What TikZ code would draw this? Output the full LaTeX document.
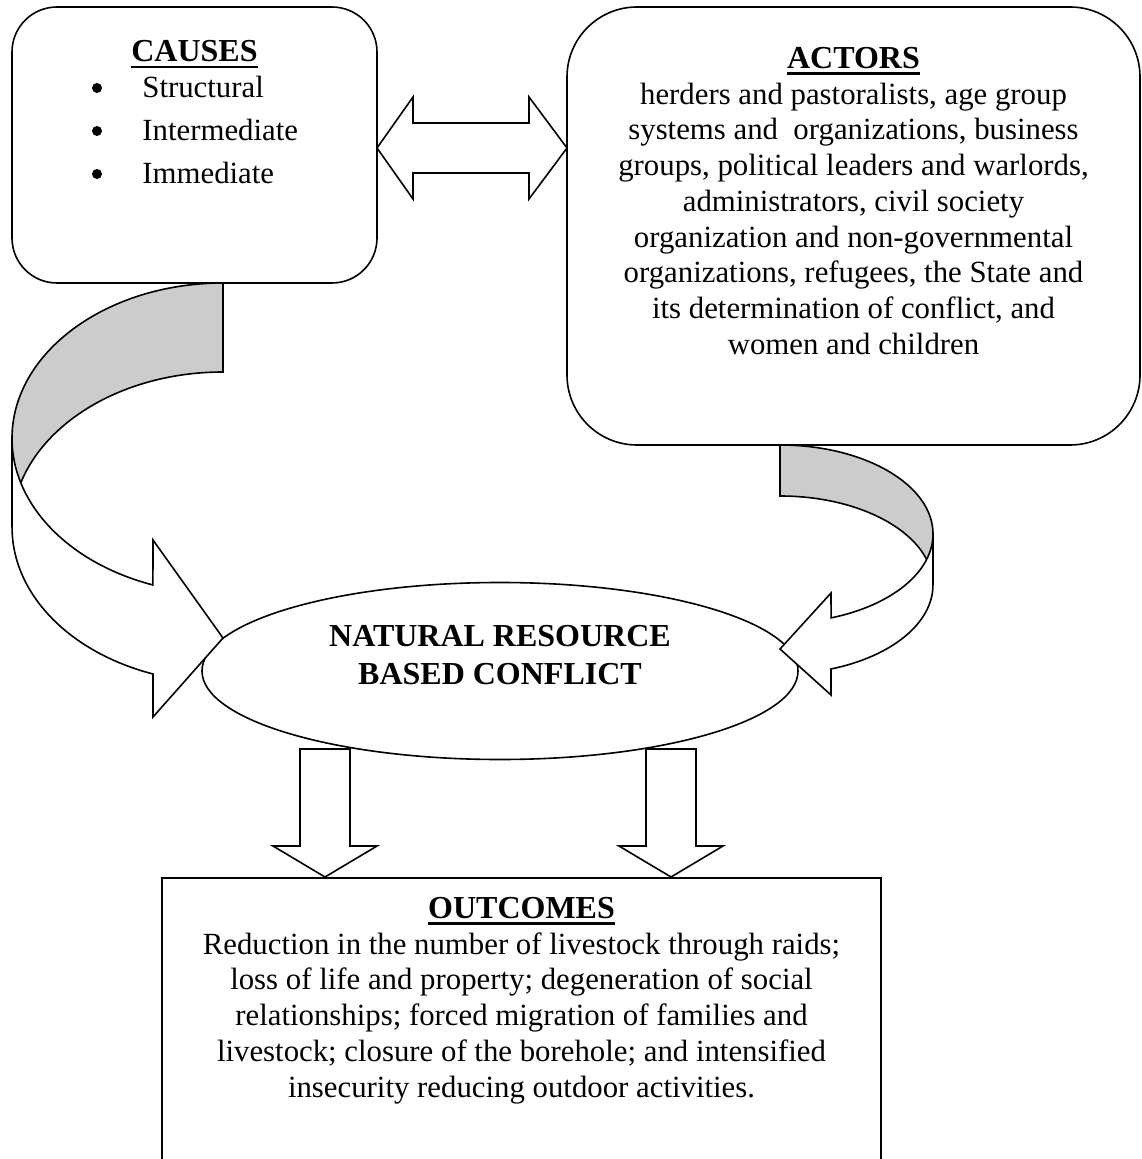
\documentclass[tikz,border=0pt]{standalone}
\usepackage{fontspec}
\setmainfont{Liberation Serif}
\usetikzlibrary{shapes.geometric}
\tikzset{box/.style={draw, line width=0.8pt, fill=white, inner sep=0pt}}
\tikzset{blockarrow/.style={draw, line width=0.8pt, fill=white, line join=miter}}
\tikzset{backband/.style={draw, line width=0.8pt, fill=black!20}}
\tikzset{dot/.style={circle, fill=black, inner sep=0pt, minimum size=5pt}}
\tikzset{txt/.style={font=\fontsize{15.4}{17.85}\selectfont, inner sep=0pt}}
\tikzset{conflicttxt/.style={font=\fontsize{16}{19}\selectfont\bfseries, align=center, inner sep=0pt}}
\newsavebox{\headbox}
\newcommand{\boxhead}[1]{{\fontsize{16}{18}\selectfont\bfseries\sbox{\headbox}{#1}\rlap{\rule[-3.2pt]{\wd\headbox}{1.3pt}}\usebox{\headbox}}}

\begin{document}
\begin{tikzpicture}[x=0.5pt, y=-0.5pt]
  \useasboundingbox (0,0) rectangle (1141,1159);
  \clip (0,0) rectangle (1141,1159);

  \node[box, rounded corners=22.5pt, minimum width=182.5pt, minimum height=138pt] (causes) at (194.5,145) {};
  \node[box, rounded corners=35pt, minimum width=286.5pt, minimum height=219pt] (actors) at (853.5,226) {};

  \draw[backband] (223,283) arc[start angle=-90, end angle=-180, x radius=211, y radius=155.4]
    -- (12,527.4) arc[start angle=180, end angle=270, x radius=211, y radius=155.4] -- cycle;
  \draw[backband] (780,445) arc[start angle=-90, end angle=0, x radius=153, y radius=89]
    -- (933,585) arc[start angle=0, end angle=-90, x radius=153, y radius=89] -- cycle;

  \node[box, ellipse, minimum width=298pt, minimum height=88.5pt] (conflict) at (500,671) {};

  \draw[blockarrow] (12,438.4) arc[start angle=180, end angle=109.4, x radius=211, y radius=155.4]
    -- (153,540) -- (223,638) -- (153,717) -- (153,674)
    arc[start angle=109.4, end angle=180, x radius=211, y radius=155.4] -- cycle;
  \draw[blockarrow] (933,534) arc[start angle=0, end angle=70.5, x radius=153, y radius=89]
    -- (831,593) -- (780,649) -- (831,695) -- (831,669)
    arc[start angle=70.5, end angle=0, x radius=153, y radius=89] -- cycle;

  \draw[blockarrow] (377,148) -- (413,97) -- (413,123) -- (529,123) -- (529,97) -- (567,148)
    -- (529,199) -- (529,173) -- (413,173) -- (413,199) -- cycle;

  \node[box, minimum width=359.5pt, minimum height=150pt, anchor=north] (outcomes) at (521.5,877) {};
  \foreach \x in {300,646}
    \draw[blockarrow] (\x,749) -- (\x+50,749) -- (\x+50,846) -- (\x+77,846) -- (\x+25,877)
      -- (\x-27,846) -- (\x,846) -- cycle;

  \node[txt, anchor=base] (causeshead) at (194.5,62) {\boxhead{CAUSES}};
  \foreach \c [count=\i] in {Structural,Intermediate,Immediate} {
    \node[dot] (bullet\i) at (97,45+43*\i) {};
    \node[txt, anchor=base west] (cause\i) at (142,55+43*\i) {\c};
  }

  \node[txt, align=center, anchor=north] (actorstext) at (853.5,47) {\boxhead{ACTORS}\\
    herders and pastoralists, age group\\
    systems and~ organizations, business\\
    groups, political leaders and warlords,\\
    administrators, civil society\\
    organization and non-governmental\\
    organizations, refugees, the State and\\
    its determination of conflict, and\\
    women and children};

  \node[conflicttxt, anchor=north] (conflicttext) at (500,625) {NATURAL RESOURCE\\BASED CONFLICT};

  \node[txt, align=center, anchor=north] (outcomestext) at (521.5,897) {\boxhead{OUTCOMES}\\
    Reduction in the number of livestock through raids;\\
    loss of life and property; degeneration of social\\
    relationships; forced migration of families and\\
    livestock; closure of the borehole; and intensified\\
    insecurity reducing outdoor activities.};
\end{tikzpicture}
\end{document}
